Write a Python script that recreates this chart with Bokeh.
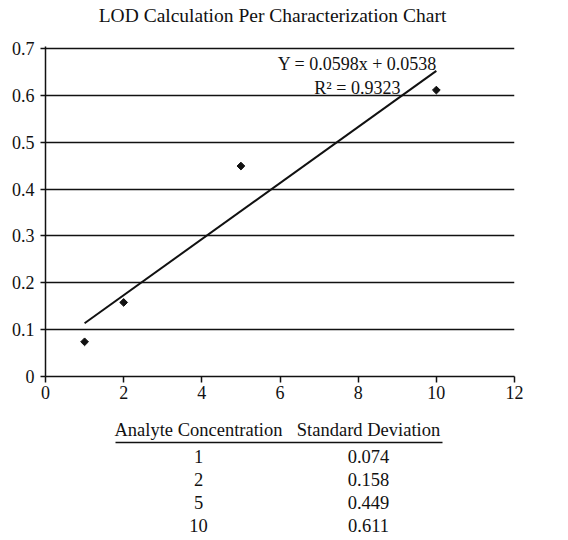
import numpy as np
from bokeh.plotting import figure
from bokeh.models import Range1d, FixedTicker
from bokeh.layouts import column
from bokeh.embed import file_html
from bokeh.resources import INLINE
from bokeh.core.properties import value

# ---- data ----
concentration = [1, 2, 5, 10]
std_dev = [0.074, 0.158, 0.449, 0.611]
concentration_labels = ["1", "2", "5", "10"]
std_dev_labels = ["0.074", "0.158", "0.449", "0.611"]
x_ticks = [0, 2, 4, 6, 8, 10, 12]
y_ticks = [0, 0.1, 0.2, 0.3, 0.4, 0.5, 0.6, 0.7]
y_tick_labels = ["0", "0.1", "0.2", "0.3", "0.4", "0.5", "0.6", "0.7"]
title_text = "LOD Calculation Per Characterization Chart"
equation_text = "Y = 0.0598x + 0.0538"
r2_text = "R\u00b2 = 0.9323"
table_headers = ["Analyte Concentration", "Standard Deviation"]

FONT = value("Liberation Serif")
INK = "#111111"

slope, intercept = np.polyfit(concentration, std_dev, 1)
trend_x = [min(concentration), max(concentration)]
trend_y = [slope * v + intercept for v in trend_x]

W = 552
BL, BR = 45, 38          # shared left/right borders -> frame spans page x 45..514
FX0, FX1 = BL, W - BR    # pixel-space x range for the text strips


def strip(height):
    f = figure(width=W, height=height, x_range=Range1d(FX0, FX1), y_range=Range1d(height, 0),
               x_axis_type=None, y_axis_type=None, toolbar_location=None,
               output_backend="svg", min_border_left=BL, min_border_right=BR,
               min_border_top=0, min_border_bottom=0)
    f.grid.visible = False
    f.outline_line_color = None
    return f


# ---- title strip ----
tf = strip(40)
tf.text(x=[272], y=[15], text=[title_text], text_align="center", text_baseline="middle",
        text_font=FONT, text_font_size="19.5px", text_color=INK)

# ---- main chart ----
p = figure(width=W, height=370, x_range=Range1d(0, 12), y_range=Range1d(0, 0.704),
           toolbar_location=None, output_backend="svg",
           min_border_left=BL, min_border_right=BR, min_border_top=6, min_border_bottom=34)
p.outline_line_color = None
p.xgrid.visible = False
p.ygrid.ticker = FixedTicker(ticks=y_ticks)
p.ygrid.grid_line_color = INK
p.ygrid.grid_line_width = 1.5

p.xaxis.ticker = FixedTicker(ticks=x_ticks)
p.yaxis.ticker = FixedTicker(ticks=y_ticks)
p.yaxis.major_label_overrides = {t: l for t, l in zip(y_ticks, y_tick_labels)}
for ax in (p.xaxis[0], p.yaxis[0]):
    ax.axis_line_color = INK
    ax.axis_line_width = 1.5
    ax.major_tick_line_color = INK
    ax.major_tick_line_width = 1.5
    ax.major_tick_in = 0
    ax.minor_tick_line_color = None
    ax.major_label_text_font = "Liberation Serif"
    ax.major_label_text_font_size = "18px"
    ax.major_label_text_color = INK
p.xaxis.major_tick_out = 6
p.xaxis.major_label_standoff = 3
p.yaxis.major_tick_out = 5
p.yaxis.major_label_standoff = 6

p.line(trend_x, trend_y, line_color=INK, line_width=2)
p.scatter(concentration, std_dev, marker="square", size=5.5, angle=np.pi / 4,
          fill_color=INK, line_color=INK)

p.text(x=[7.98], y=[0.667], text=[equation_text], text_align="center", text_baseline="middle",
       text_font=FONT, text_font_size="18px", text_color=INK)
p.text(x=[7.98], y=[0.616], text=[r2_text], text_align="center", text_baseline="middle",
       text_font=FONT, text_font_size="18px", text_color=INK)

# ---- data table below ----
tt = strip(130)
col_x = [198, 368]
tt.text(x=col_x, y=[19, 19], text=table_headers, text_align="center", text_baseline="middle",
        text_font=FONT, text_font_size="18.5px", text_color=INK)
tt.line(x=[115, 442], y=[32, 32], line_color=INK, line_width=1.5)
row_y = [46 + 23 * i for i in range(len(concentration))]
tt.text(x=[col_x[0]] * len(concentration), y=row_y, text=concentration_labels,
        text_align="center", text_baseline="middle",
        text_font=FONT, text_font_size="18.5px", text_color=INK)
tt.text(x=[col_x[1]] * len(std_dev), y=row_y, text=std_dev_labels,
        text_align="center", text_baseline="middle",
        text_font=FONT, text_font_size="18.5px", text_color=INK)

layout = column(tf, p, tt, spacing=0)
open("out.html", "w").write(file_html(layout, INLINE))
